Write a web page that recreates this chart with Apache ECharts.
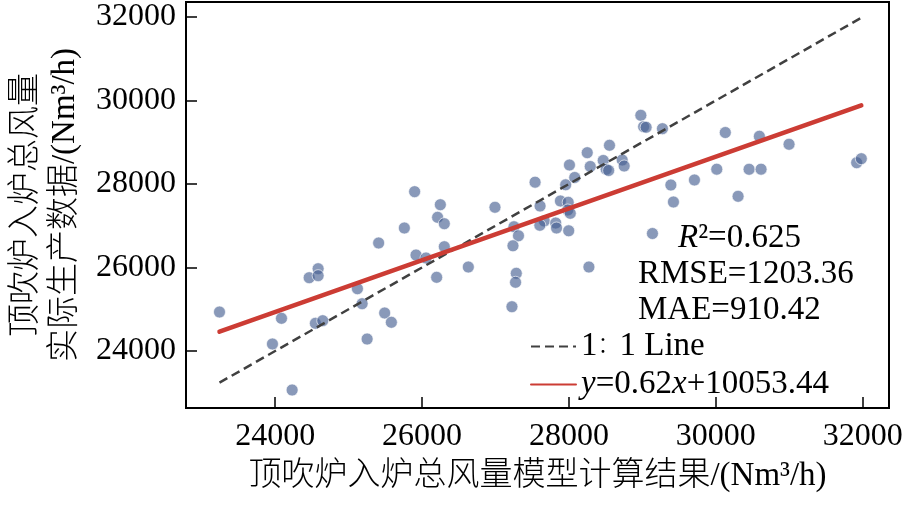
<!DOCTYPE html>
<html>
<head>
<meta charset="utf-8">
<script src="https://cdn.jsdelivr.net/npm/echarts@6/dist/echarts.min.js"></script>
<style>html,body{margin:0;padding:0;background:#fff;}#c{width:906px;height:506px;}</style>
</head>
<body>
<div id="c"></div>
<script>
// Model-computed values (x) and actual production values (y), Nm³/h
const modelValues = [23242,24086,23963,24231,24463,24585,24585,24548,24648,25120,
  25184,25252,25409,25491,25582,25759,25899,25918,26054,26199,
  26212,26249,26303,26303,26630,26993,27252,27313,27238,27283,
  27273,27224,27539,27607,27664,27604,27820,27831,27884,27990,
  27984,28018,27997,27956,28007,28079,28249,28290,28272,28467,
  28507,28541,28725,28752,28552,28979,29017,29051,29273,29388,
  29423,29709,29137,30013,30129,30303,30453,30593,30616,30997,
  31918,31981];
const actualValues = [24934,24783,24168,23066,25756,25971,25804,24663,24726,25492,
  25133,24287,26587,24910,24687,26946,27816,26299,26228,25765,
  27202,27504,27049,26498,26012,27442,26977,26759,26520,25861,
  25646,25061,28043,27473,27114,27011,27066,26946,27593,27562,
  27377,27298,26879,27981,28455,28156,28750,28419,26012,28563,
  28352,28323,28575,28431,28927,29645,29372,29358,29325,27976,
  27569,28096,26814,28354,29233,27705,28352,29143,28354,28951,
  28510,28606];
const tickValues = [24000, 26000, 28000, 30000, 32000];
const fitSlope = 0.62;
const fitIntercept = 10053.44;
const statTexts = ['{i|R}²=0.625', 'RMSE=1203.36', 'MAE=910.42'];
const legendNames = ['1：1 Line', 'fit'];

const FONT = "'Liberation Serif', 'Times New Roman', 'Noto Sans CJK SC', serif";
const points = modelValues.map((v, i) => [v, actualValues[i]]);
const xMin = Math.min(...modelValues), xMax = Math.max(...modelValues);
const identityLine = [[xMin, xMin], [xMax, xMax]];
const fitLine = [[xMin, fitSlope * xMin + fitIntercept], [xMax, fitSlope * xMax + fitIntercept]];

const chart = echarts.init(document.getElementById('c'), null, {renderer: 'canvas'});
const labelCommon = {color: '#000', fontFamily: FONT, fontSize: 32, customValues: tickValues,
  formatter: function (v) { return String(Math.round(v)); }};
const axisCommon = {
  type: 'value',
  axisLine: {show: true, lineStyle: {color: '#000', width: 2}},
  axisTick: {show: true, inside: true, length: 11, lineStyle: {color: '#000', width: 1.5}, customValues: tickValues},
  splitLine: {show: false}
};
chart.setOption({
  animation: false,
  backgroundColor: '#fff',
  grid: {left: 186, right: 17, top: 2, bottom: 98, show: true, borderColor: '#000', borderWidth: 2,
    backgroundColor: 'transparent', containLabel: false, outerBoundsMode: 'none'},
  xAxis: Object.assign({}, axisCommon, {
    min: 22786, max: 32358,
    name: '顶吹炉入炉总风量模型计算结果/(Nm³/h)',
    nameLocation: 'middle', nameGap: 52,
    nameTextStyle: {color: '#000', fontFamily: FONT, fontSize: 33, fontWeight: 300},
    axisLabel: Object.assign({}, labelCommon, {margin: 13})
  }),
  yAxis: Object.assign({}, axisCommon, {
    min: 22635, max: 32359,
    name: '顶吹炉入炉总风量\n实际生产数据/(Nm³/h)',
    nameLocation: 'middle', nameGap: 100, nameRotate: 90,
    nameTextStyle: {color: '#000', fontFamily: FONT, fontSize: 33, lineHeight: 39, fontWeight: 300},
    axisLabel: Object.assign({}, labelCommon, {margin: 10})
  }),
  legend: {
    orient: 'vertical', left: 525, top: 325, itemWidth: 45, itemHeight: 14, itemGap: 5,
    itemStyle: {opacity: 0},
    data: [{name: legendNames[0]}, {name: legendNames[1]}],
    formatter: function (n) {
      if (n === 'fit') return '{i|y}=0.62{i|x}+10053.44';
      return n.replace('：', '{c|：}');
    },
    textStyle: {color: '#000', fontFamily: FONT, fontSize: 33, lineHeight: 33,
      rich: {i: {fontStyle: 'italic', fontFamily: FONT, fontSize: 33, color: '#000'},
             c: {fontFamily: FONT, fontSize: 22, color: '#000', fontWeight: 300}}}
  },
  graphic: [
    {type: 'text', left: 678, top: 222, style: {text: statTexts[0], fontFamily: FONT, fontSize: 33, fill: '#000',
      rich: {i: {fontStyle: 'italic', fontFamily: FONT, fontSize: 33, fill: '#000'}}}},
    {type: 'text', left: 638, top: 258, style: {text: statTexts[1], fontFamily: FONT, fontSize: 33, fill: '#000'}},
    {type: 'text', left: 638, top: 294, style: {text: statTexts[2], fontFamily: FONT, fontSize: 33, fill: '#000'}}
  ],
  series: [
    {type: 'scatter', name: 'data', data: points, symbolSize: 12, z: 2,
      itemStyle: {color: 'rgba(70,96,146,0.8)', borderColor: '#fff', borderWidth: 0.8}},
    {type: 'line', name: legendNames[0], data: identityLine, symbol: 'none', z: 3,
      lineStyle: {color: '#404040', width: 2.5, type: [9, 5]}, itemStyle: {color: '#404040'}},
    {type: 'line', name: legendNames[1], data: fitLine, symbol: 'none', z: 4,
      lineStyle: {color: '#cc3c34', width: 4.5, cap: 'round'}, itemStyle: {color: '#cc3c34'}}
  ]
});
</script>
</body>
</html>
